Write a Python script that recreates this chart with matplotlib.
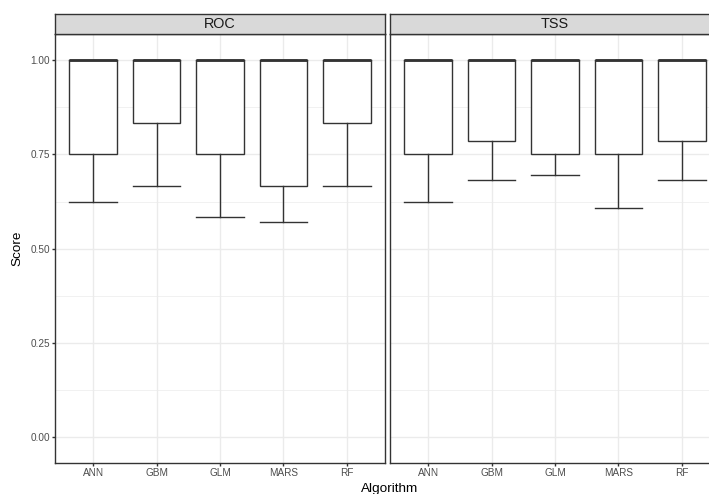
import matplotlib
matplotlib.use("Agg")
import matplotlib.pyplot as plt

plt.rcParams['font.family'] = ['Liberation Sans', 'DejaVu Sans']

# data
algorithms = ["ANN", "GBM", "GLM", "MARS", "RF"]
metrics = ["ROC", "TSS"]
q1 = {"ROC": [0.75, 0.833, 0.75, 0.667, 0.833],
      "TSS": [0.75, 0.785, 0.75, 0.75, 0.785]}
median = {"ROC": [1.0, 1.0, 1.0, 1.0, 1.0],
          "TSS": [1.0, 1.0, 1.0, 1.0, 1.0]}
q3 = {"ROC": [1.0, 1.0, 1.0, 1.0, 1.0],
      "TSS": [1.0, 1.0, 1.0, 1.0, 1.0]}
whisk_lo = {"ROC": [0.625, 0.667, 0.583, 0.571, 0.667],
            "TSS": [0.625, 0.683, 0.695, 0.608, 0.683]}
whisk_hi = {"ROC": [1.0, 1.0, 1.0, 1.0, 1.0],
            "TSS": [1.0, 1.0, 1.0, 1.0, 1.0]}

W, H = 709, 494
fig = plt.figure(figsize=(W / 100, H / 100), dpi=100)

dark = "#333333"
grid_col = "#EBEBEB"
panel_left = [55, 390]
panel_w = 330
top_px, bot_px = 34, 463
strip_h = 20

for k, m in enumerate(metrics):
    ax = fig.add_axes([panel_left[k] / W, (H - bot_px) / H, panel_w / W, (bot_px - top_px) / H])
    stats = []
    for i, a in enumerate(algorithms):
        stats.append(dict(label=a, q1=q1[m][i], med=median[m][i], q3=q3[m][i],
                          whislo=whisk_lo[m][i], whishi=whisk_hi[m][i], fliers=[]))
    pos = list(range(1, len(algorithms) + 1))
    ax.bxp(stats, positions=pos, widths=0.75, capwidths=0.75, patch_artist=True,
           showfliers=False,
           boxprops=dict(facecolor="white", edgecolor=dark, linewidth=1.0),
           medianprops=dict(color=dark, linewidth=2.0),
           whiskerprops=dict(color=dark, linewidth=1.0),
           capprops=dict(color=dark, linewidth=1.0), zorder=3)
    ax.set_xlim(0.4, 5.6)
    ax.set_ylim(-0.068, 1.069)
    ax.set_yticks([0, 0.25, 0.5, 0.75, 1.0])
    ax.set_yticks([0.125, 0.375, 0.625, 0.875], minor=True)
    ax.set_xticks(pos)
    ax.set_xticklabels(algorithms)
    ax.grid(True, which="major", color=grid_col, linewidth=1.0, zorder=0)
    ax.grid(True, which="minor", axis="y", color=grid_col, linewidth=0.5, zorder=0)
    ax.set_axisbelow(True)
    ax.tick_params(which="major", length=2.0, width=1.0, color=dark,
                   labelsize=7.2, labelcolor="#4D4D4D", pad=1.6)
    ax.tick_params(which="minor", length=0)
    if k == 0:
        ax.set_yticklabels(["0.00", "0.25", "0.50", "0.75", "1.00"])
    else:
        ax.tick_params(axis="y", which="both", left=False, labelleft=False)
    for s in ax.spines.values():
        s.set_color(dark)
        s.set_linewidth(1.0)

    # facet strip
    sax = fig.add_axes([panel_left[k] / W, (H - top_px) / H, panel_w / W, strip_h / H])
    sax.set_facecolor("#D9D9D9")
    sax.set_xticks([])
    sax.set_yticks([])
    for s in sax.spines.values():
        s.set_color(dark)
        s.set_linewidth(1.0)
    sax.text(0.5, 0.5, m, ha="center", va="center", fontsize=10.4,
             color="#1A1A1A", transform=sax.transAxes)

fig.text(390 / W, 2.5 / H, "Algorithm", ha="center", va="baseline", fontsize=9.7)
fig.text(17 / W, (H - 248.5) / H, "Score", ha="center", va="center",
         rotation=90, fontsize=9.7)

fig.savefig("out.png", dpi=100)
